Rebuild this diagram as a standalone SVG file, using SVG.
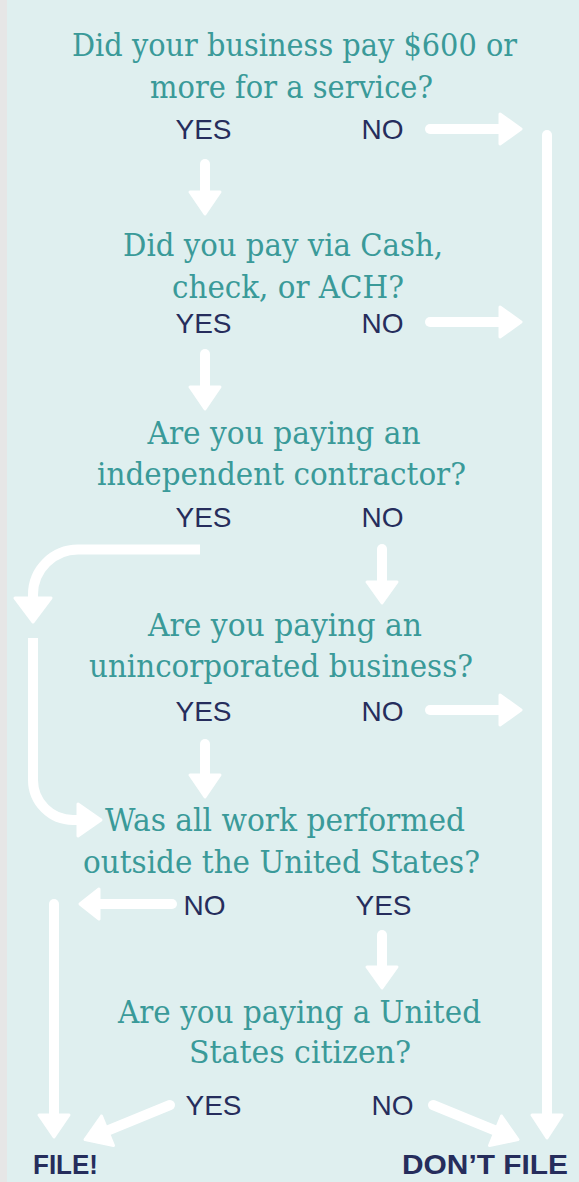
<svg xmlns="http://www.w3.org/2000/svg" width="579" height="1182" viewBox="0 0 579 1182">
<style>
.q{font-family:"DejaVu Serif","Liberation Serif",serif;font-size:31px;fill:#3a9a99;text-anchor:middle}
.a{font-family:"Liberation Sans",Arial,sans-serif;font-size:28px;fill:#262d5c;text-anchor:middle}
.t{font-family:"Liberation Sans",Arial,sans-serif;font-weight:bold;font-size:28px;fill:#262d5c}
.ln{fill:none;stroke:#ffffff;stroke-width:10;stroke-linecap:round}
.lb{fill:none;stroke:#ffffff;stroke-width:10;stroke-linecap:butt}
.hd{fill:#ffffff;stroke:#ffffff;stroke-width:3;stroke-linejoin:round}
</style>
<rect x="0" y="0" width="579" height="1182" fill="#dfefef"/>
<rect x="0" y="0" width="7" height="1182" fill="#e6e6e6"/>

<g id="connectors">
  <path class="ln" d="M430,129 H503"/>
  <path class="hd" d="M500,114 L521,129 L500,144 Z"/>
  <path class="ln" d="M430,322 H503"/>
  <path class="hd" d="M500,307 L521,322 L500,337 Z"/>
  <path class="ln" d="M430,710 H503"/>
  <path class="hd" d="M500,695 L521,710 L500,725 Z"/>
  <path class="ln" d="M547,135 V1118"/>
  <path class="hd" d="M532,1115 L547,1138 L562,1115 Z"/>
  <path class="ln" d="M205,164 V195"/>
  <path class="hd" d="M190,192 L205,214 L220,192 Z"/>
  <path class="ln" d="M205,354 V390"/>
  <path class="hd" d="M190,387 L205,409 L220,387 Z"/>
  <path class="ln" d="M382,549 V585"/>
  <path class="hd" d="M367,582 L382,603 L397,582 Z"/>
  <path class="lb" d="M200,549.5 H78 A45,45 0 0 0 33,594.5 V600"/>
  <path class="hd" d="M15,598 L33,622 L51,598 Z"/>
  <path class="lb" d="M33,638 V780 A40,40 0 0 0 73,820 H82"/>
  <path class="hd" d="M78,804 L101,820 L78,836 Z"/>
  <path class="ln" d="M205,744 V778"/>
  <path class="hd" d="M190,775 L205,797 L220,775 Z"/>
  <path class="ln" d="M172,904 H97"/>
  <path class="hd" d="M99,889 L80,904 L99,919 Z"/>
  <path class="ln" d="M54,904 V1118"/>
  <path class="hd" d="M39,1115 L54,1137 L69,1115 Z"/>
  <path class="ln" d="M382,935 V970"/>
  <path class="hd" d="M367,967 L382,988 L397,967 Z"/>
  <path class="ln" d="M170,1105 L109,1130"/>
  <path class="hd" d="M101.5,1116 L85,1139.5 L113.5,1145.5 Z"/>
  <path class="ln" d="M433,1105 L494,1130"/>
  <path class="hd" d="M501.5,1116 L518,1139.5 L489.5,1145.5 Z"/>
</g>

<g id="q1">
  <text class="q" x="294.5" y="56" textLength="445" lengthAdjust="spacingAndGlyphs">Did your business pay $600 or</text>
  <text class="q" x="291.5" y="98" textLength="283" lengthAdjust="spacingAndGlyphs">more for a service?</text>
  <text class="a" x="203.5" y="139">YES</text>
  <text class="a" x="382.5" y="139">NO</text>
</g>
<g id="q2">
  <text class="q" x="283" y="256" textLength="320" lengthAdjust="spacingAndGlyphs">Did you pay via Cash,</text>
  <text class="q" x="288" y="298" textLength="232" lengthAdjust="spacingAndGlyphs">check, or ACH?</text>
  <text class="a" x="203.5" y="333">YES</text>
  <text class="a" x="382.5" y="333">NO</text>
</g>
<g id="q3">
  <text class="q" x="284" y="444" textLength="273" lengthAdjust="spacingAndGlyphs">Are you paying an</text>
  <text class="q" x="281.5" y="485" textLength="369" lengthAdjust="spacingAndGlyphs">independent contractor?</text>
  <text class="a" x="203.5" y="527">YES</text>
  <text class="a" x="382.5" y="527">NO</text>
</g>
<g id="q4">
  <text class="q" x="285" y="636" textLength="274" lengthAdjust="spacingAndGlyphs">Are you paying an</text>
  <text class="q" x="281" y="677" textLength="384" lengthAdjust="spacingAndGlyphs">unincorporated business?</text>
  <text class="a" x="203.5" y="721">YES</text>
  <text class="a" x="382.5" y="721">NO</text>
</g>
<g id="q5">
  <text class="q" x="285" y="831" textLength="360" lengthAdjust="spacingAndGlyphs">Was all work performed</text>
  <text class="q" x="281.5" y="873" textLength="397" lengthAdjust="spacingAndGlyphs">outside the United States?</text>
  <text class="a" x="204.5" y="915">NO</text>
  <text class="a" x="383.5" y="915">YES</text>
</g>
<g id="q6">
  <text class="q" x="299.5" y="1023" textLength="363" lengthAdjust="spacingAndGlyphs">Are you paying a United</text>
  <text class="q" x="300" y="1063" textLength="222" lengthAdjust="spacingAndGlyphs">States citizen?</text>
  <text class="a" x="213.5" y="1115">YES</text>
  <text class="a" x="392.5" y="1115">NO</text>
</g>
<g id="file">
  <text class="t" x="33" y="1174" textLength="65" lengthAdjust="spacingAndGlyphs">FILE!</text>
</g>
<g id="dont-file">
  <text class="t" x="402" y="1174" textLength="166" lengthAdjust="spacingAndGlyphs">DON’T FILE</text>
</g>
</svg>
